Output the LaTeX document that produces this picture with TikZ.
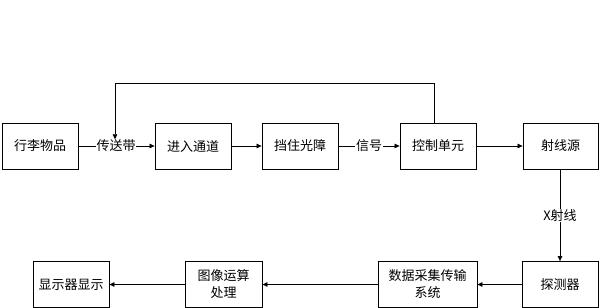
\documentclass[tikz,border=0pt]{standalone}
\usepackage{fontspec}
\newfontfamily\cjk{Noto Sans CJK SC}
\usetikzlibrary{arrows.meta}
\begin{document}
\begin{tikzpicture}[x=1pt,y=-1pt,
  box/.style={draw,line width=0.8pt,minimum height=46pt,align=center,font=\cjk\fontsize{13}{17}\selectfont,inner sep=1pt},
  lbl/.style={fill=white,font=\cjk\fontsize{13}{15}\selectfont,inner sep=0.5pt},
  conn/.style={line width=0.7pt,-{Triangle[length=5pt,width=4.5pt]}}]
\useasboundingbox (0,0) rectangle (600,308);
\node[box,minimum width=76pt] (a) at (40,146) {行李物品};
\node[box,minimum width=76pt] (b) at (193,146) {进入通道};
\node[box,minimum width=76pt] (c) at (300,146) {挡住光障};
\node[box,minimum width=76pt] (d) at (438,146) {控制单元};
\node[box,minimum width=75pt] (e) at (560.5,146) {射线源};
\node[box,minimum width=76pt] (f) at (560,284.5) {探测器};
\node[box,minimum width=99pt] (g) at (427.5,284.5) {数据采集传输\\系统};
\node[box,minimum width=77pt] (h) at (223.5,284.5) {图像运算\\处理};
\node[box,minimum width=76pt] (i) at (71,284.5) {显示器显示};
\node[lbl] (l1) at (116,146) {传送带};
\node[lbl] (l2) at (369,146) {信号};
\draw[line width=0.7pt] (a) -- (l1);
\draw[conn] (l1) -- (b);
\draw[conn] (b) -- (c);
\draw[line width=0.7pt] (c) -- (l2);
\draw[conn] (l2) -- (d);
\draw[conn] (d) -- (e);
\coordinate (t1) at (434,83);
\coordinate (t2) at (115,83);
\draw[conn] (d.north -| t1) -- (t1) -- (t2) -- (t2 |- l1.north);
\draw[conn] (e.south -| f.north) -- node[lbl,pos=0.5] (l3) {X射线} (f.north);
\draw[conn] (f) -- (g);
\draw[conn] (g) -- (h);
\draw[conn] (h) -- (i);
\end{tikzpicture}
\end{document}
